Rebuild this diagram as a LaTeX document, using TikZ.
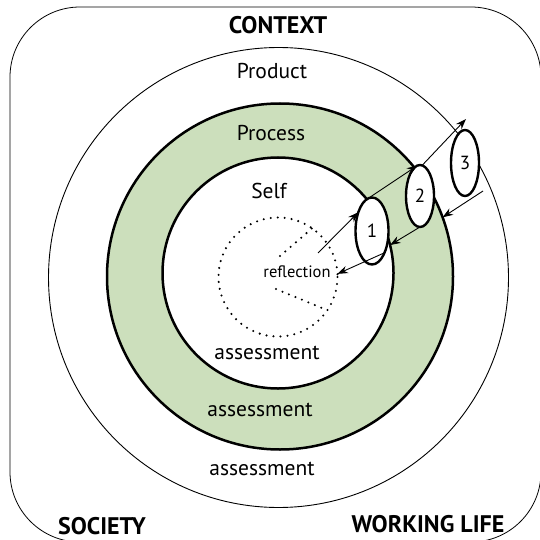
\documentclass[tikz,border=0pt]{standalone}
\usepackage{fontspec}
\setmainfont{PT Sans}
\usetikzlibrary{calc}
\usetikzlibrary{math}
\usetikzlibrary{arrows.meta}
\usetikzlibrary{shapes}

\begin{document}
\begin{tikzpicture}[x=1pt, y=-1pt, >={Stealth[length=10.5pt, width=7.5pt]}]
    \definecolor{sage}{RGB}{204, 223, 188}

    \tikzmath {
        \productR = 230;
        \processR = 173;
        \selfR = 115.5;
        \reflR = 59.5;
    }

    \tikzstyle{ring}=[shape=circle, draw, inner sep=0pt, outer sep=0pt]
    \tikzstyle{lvl}=[shape=ellipse, draw, line width=2.4pt, fill=white, inner sep=0pt, outer sep=0pt, minimum width=28pt, minimum height=62pt, font=\fontsize{19}{20}\selectfont]
    \tikzstyle{lbl}=[font=\fontsize{21.5}{24}\selectfont]
    \tikzstyle{big}=[font=\fontsize{24}{26}\selectfont\bfseries]
    \tikzstyle{dots}=[line width=2.3pt, dash pattern=on 0pt off 7pt, line cap=round]

    \useasboundingbox (0,0) rectangle (539,540);

    % context frame
    \draw[line width=0.8pt, rounded corners=70pt] (10,7) rectangle (541,542);

    \coordinate (product_c) at (278.5,277.5);
    \node[ring, line width=0.9pt, minimum size=2*\productR*1pt] (product) at (product_c) {};

    \coordinate (process_c) at (280,276.5);
    \node[ring, line width=2.5pt, fill=sage, minimum size=2*\processR*1pt] (process) at (process_c) {};

    \coordinate (self_c) at (278,273);
    \node[ring, line width=2.5pt, fill=white, minimum size=2*\selfR*1pt] (self) at (self_c) {};

    \coordinate (refl_c) at (278,277);
    \node[ring, draw=none, minimum size=2*\reflR*1pt] (refl) at (refl_c) {};
    \draw[dots] (refl_c) circle[radius=\reflR];

    \coordinate (pie_a) at (280,256);
    \coordinate (pie_b) at (276,289);
    \draw[dots] (pie_a) -- (refl.55);
    \draw[dots] (pie_b) -- (refl.-34);

    % labels
    \node[big] (context) at (278,25) {CONTEXT};
    \node[big] (society) at (102,526) {SOCIETY};
    \node[big] (working) at (428,524) {WORKING LIFE};
    \node[lbl] (product_t) at (272,71) {Product};
    \node[lbl] (process_t) at (271,133) {Process};
    \node[lbl] (self_t) at (269,191) {Self};
    \node[font=\fontsize{16.5}{18}\selectfont] (refl_t) at (297,272) {reflection};
    \node[lbl] (assess_self) at (267,353) {assessment};
    \node[lbl] (assess_process) at (260,410) {assessment};
    \node[lbl] (assess_product) at (262,469) {assessment};

    % levels
    \node[lvl, minimum width=33pt, minimum height=67pt] (e1) at (372,231) {1};
    \node[lvl] (e2) at (420,196) {2};
    \node[lvl, minimum height=66pt] (e3) at (465,163) {3};

    \coordinate (a_start) at (318,253);
    \coordinate (c_tip) at (466,119);
    \coordinate (d_start) at (483,191);

    \draw[line width=0.9pt, ->] (a_start) -- (e1.126);
    \draw[line width=0.9pt, ->] (e1.97) -- (e2.95);
    \draw[line width=0.9pt, ->] (e2.86) -- (c_tip);
    \draw[line width=0.9pt, ->] (d_start) -- (process.20);
    \draw[line width=0.9pt, ->] (e2.-90) -- (self.14);
    \draw[line width=0.9pt, ->] (e1.-60) -- (refl.3);
\end{tikzpicture}
\end{document}
